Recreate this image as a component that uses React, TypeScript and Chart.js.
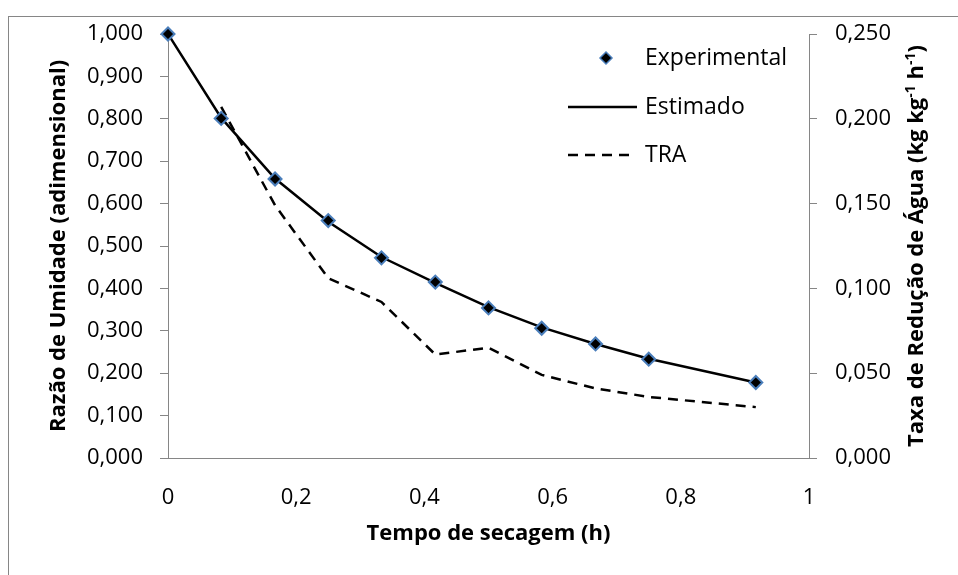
import { useEffect, useRef } from 'react';
import { Chart, registerables } from 'chart.js';
Chart.register(...registerables);

const FONT = '"Open Sans", sans-serif';

const timeH = [0, 0.083, 0.167, 0.25, 0.333, 0.417, 0.5, 0.583, 0.667, 0.75, 0.917];
const experimental = [1.0, 0.801, 0.658, 0.56, 0.472, 0.415, 0.354, 0.306, 0.269, 0.233, 0.178];
const estimado = [1.0, 0.802, 0.659, 0.557, 0.474, 0.413, 0.356, 0.308, 0.269, 0.234, 0.178];
const tra = [null, 0.207, 0.149, 0.106, 0.092, 0.061, 0.065, 0.049, 0.041, 0.036, 0.03];

const xTickLabels = ['0', '0,2', '0,4', '0,6', '0,8', '1'];
const leftTitle = 'Razão de Umidade (adimensional)';
const rightTitleParts = [
  { t: 'Taxa de Redução de Água (kg kg', sup: false },
  { t: '-1', sup: true },
  { t: ' h', sup: false },
  { t: '-1', sup: true },
  { t: ')', sup: false },
];
const xTitle = 'Tempo de secagem (h)';
const legendLabels = ['Experimental', 'Estimado', 'TRA'];

const AXIS_GRAY = '#868686';
const MARKER_BLUE = '#4a7ebb';

const pts = (ys: (number | null)[]) => timeH.map((x, i) => ({ x, y: ys[i] }));

const overlayPlugin = {
  id: 'overlay',
  afterDatasetsDraw(chart: any) {
    const { ctx, chartArea } = chart;
    const r = chartArea.right;
    const t = chartArea.top;
    ctx.save();
    // legend
    ctx.font = `23px ${FONT}`;
    ctx.fillStyle = '#000';
    ctx.textBaseline = 'middle';
    ctx.textAlign = 'left';
    const tx = r - 164;
    const rows = [t + 24, t + 73, t + 121];
    // diamond
    const cx = r - 203, cy = rows[0], rad = 6;
    ctx.beginPath();
    ctx.moveTo(cx, cy - rad);
    ctx.lineTo(cx + rad, cy);
    ctx.lineTo(cx, cy + rad);
    ctx.lineTo(cx - rad, cy);
    ctx.closePath();
    ctx.fillStyle = '#000';
    ctx.fill();
    ctx.lineWidth = 1.5;
    ctx.strokeStyle = MARKER_BLUE;
    ctx.stroke();
    // solid line
    ctx.beginPath();
    ctx.lineWidth = 2.5;
    ctx.strokeStyle = '#000';
    ctx.moveTo(r - 241, rows[1]);
    ctx.lineTo(r - 172, rows[1]);
    ctx.stroke();
    // dashed
    ctx.beginPath();
    ctx.setLineDash([10, 7]);
    ctx.moveTo(r - 241, rows[2]);
    ctx.lineTo(r - 174, rows[2]);
    ctx.stroke();
    ctx.setLineDash([]);
    ctx.fillStyle = '#000';
    legendLabels.forEach((l, i) => ctx.fillText(l, tx, rows[i]));

    // right axis title (reads bottom-to-top, with superscripts)
    const big = `bold 22px ${FONT}`;
    const small = `bold 14px ${FONT}`;
    let total = 0;
    rightTitleParts.forEach((p) => {
      ctx.font = p.sup ? small : big;
      total += ctx.measureText(p.t).width;
    });
    ctx.translate(917, (chartArea.top + chartArea.bottom) / 2);
    ctx.rotate(-Math.PI / 2);
    let x = -total / 2;
    ctx.textBaseline = 'middle';
    rightTitleParts.forEach((p) => {
      ctx.font = p.sup ? small : big;
      ctx.fillText(p.t, x, p.sup ? -6 : 0);
      x += ctx.measureText(p.t).width;
    });
    ctx.restore();
  },
};

export default function App() {
  const ref = useRef<HTMLCanvasElement>(null);
  useEffect(() => {
    Chart.defaults.font.family = FONT;
    Chart.defaults.color = '#000';
    const chart = new Chart(ref.current!, {
      type: 'line',
      data: {
        datasets: [
          {
            label: legendLabels[0],
            data: pts(experimental),
            showLine: false,
            pointStyle: 'rectRot',
            pointRadius: 6.5,
            pointBackgroundColor: '#000',
            pointBorderColor: MARKER_BLUE,
            pointBorderWidth: 2,
            clip: false,
            yAxisID: 'y',
          },
          {
            label: legendLabels[1],
            data: pts(estimado),
            borderColor: '#000',
            borderWidth: 2.5,
            pointRadius: 0,
            tension: 0,
            yAxisID: 'y',
          },
          {
            label: legendLabels[2],
            data: pts(tra),
            borderColor: '#000',
            borderWidth: 2.5,
            borderDash: [10, 7],
            pointRadius: 0,
            spanGaps: false,
            yAxisID: 'y1',
          },
        ],
      },
      options: {
        responsive: false,
        animation: false,
        devicePixelRatio: 1,
        layout: { padding: { left: 42, right: 25, top: 34, bottom: 24 } },
        plugins: { legend: { display: false }, tooltip: { enabled: false } },
        scales: {
          x: {
            type: 'linear',
            min: 0,
            max: 1,
            afterBuildTicks: (s: any) => {
              s.ticks = xTickLabels.map((_, i) => ({ value: i * 0.2 }));
            },
            afterFit: (s: any) => {
              s.height = 93;
            },
            ticks: {
              font: { size: 22 },
              padding: 27,
              maxRotation: 0,
              callback: (_v: any, i: number) => xTickLabels[i],
            },
            grid: { display: false, drawTicks: false },
            border: { display: true, color: AXIS_GRAY, width: 1 },
            title: { display: true, text: xTitle, font: { size: 22, weight: 'bold' } },
          },
          y: {
            position: 'left',
            min: 0,
            max: 1,
            ticks: {
              stepSize: 0.1,
              font: { size: 22 },
              padding: 17,
              callback: (v: any) => Number(v).toFixed(3).replace('.', ','),
            },
            afterFit: (s: any) => {
              s.width = 126;
            },
            grid: { drawOnChartArea: false, drawTicks: true, tickLength: 8, color: AXIS_GRAY },
            border: { display: true, color: AXIS_GRAY, width: 1 },
            title: { display: true, text: leftTitle, font: { size: 22, weight: 'bold' } },
          },
          y1: {
            position: 'right',
            min: 0,
            max: 0.25,
            ticks: {
              stepSize: 0.05,
              font: { size: 22 },
              padding: 18,
              callback: (v: any) => Number(v).toFixed(3).replace('.', ','),
            },
            afterFit: (s: any) => {
              s.width = 124;
            },
            grid: { drawOnChartArea: false, drawTicks: true, tickLength: 8, color: AXIS_GRAY },
            border: { display: true, color: AXIS_GRAY, width: 1 },
          },
        },
      },
      plugins: [overlayPlugin],
    } as any);
    return () => chart.destroy();
  }, []);
  return (
    <div style={{ position: 'absolute', left: 0, top: 0, width: 958, height: 575, overflow: 'hidden', background: '#fff' }}>
      <div
        style={{
          position: 'absolute',
          left: 8,
          top: 16,
          width: 1000,
          height: 600,
          borderLeft: `1px solid ${AXIS_GRAY}`,
          borderTop: `1px solid ${AXIS_GRAY}`,
        }}
      />
      <canvas ref={ref} width={958} height={575} style={{ position: 'absolute', left: 0, top: 0, width: 958, height: 575 }} />
    </div>
  );
}
